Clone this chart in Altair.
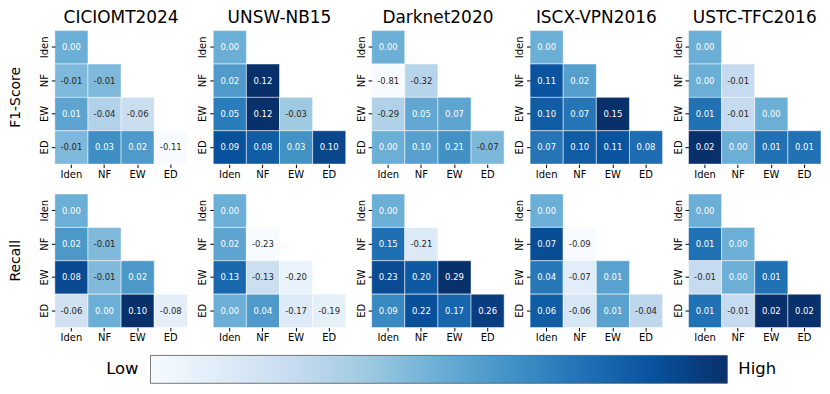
import altair as alt
import pandas as pd

datasets = ["CICIOMT2024", "UNSW-NB15", "Darknet2020", "ISCX-VPN2016", "USTC-TFC2016"]
metrics = ["F1-Score", "Recall"]
labels = ["Iden", "NF", "EW", "ED"]

# lower-triangular matrices (row i has i+1 values)
f1_ciciomt = [[0.00], [-0.01, -0.01], [0.01, -0.04, -0.06], [-0.01, 0.03, 0.02, -0.11]]
f1_unsw = [[0.00], [0.02, 0.12], [0.05, 0.12, -0.03], [0.09, 0.08, 0.03, 0.10]]
f1_darknet = [[0.00], [-0.81, -0.32], [-0.29, 0.05, 0.07], [0.00, 0.10, 0.21, -0.07]]
f1_iscx = [[0.00], [0.11, 0.02], [0.10, 0.07, 0.15], [0.07, 0.10, 0.11, 0.08]]
f1_ustc = [[0.00], [0.00, -0.01], [0.01, -0.01, 0.00], [0.02, 0.00, 0.01, 0.01]]

rec_ciciomt = [[0.00], [0.02, -0.01], [0.08, -0.01, 0.02], [-0.06, 0.00, 0.10, -0.08]]
rec_unsw = [[0.00], [0.02, -0.23], [0.13, -0.13, -0.20], [0.00, 0.04, -0.17, -0.19]]
rec_darknet = [[0.00], [0.15, -0.21], [0.23, 0.20, 0.29], [0.09, 0.22, 0.17, 0.26]]
rec_iscx = [[0.00], [0.07, -0.09], [0.04, -0.07, 0.01], [0.06, -0.06, 0.01, -0.04]]
rec_ustc = [[0.00], [0.01, 0.00], [-0.01, 0.00, 0.01], [0.01, -0.01, 0.02, 0.02]]

matrices = {
    "F1-Score": [f1_ciciomt, f1_unsw, f1_darknet, f1_iscx, f1_ustc],
    "Recall": [rec_ciciomt, rec_unsw, rec_darknet, rec_iscx, rec_ustc],
}

blues = ["#f7fbff", "#deebf7", "#c6dbef", "#9ecae1", "#6baed6",
         "#4292c6", "#2171b5", "#08519c", "#08306b"]
stops = [i / 8 for i in range(9)]

rows = []
for metric in metrics:
    for ds, mat in zip(datasets, matrices[metric]):
        for i, row in enumerate(mat):
            for j, v in enumerate(row):
                rows.append({"metric": metric, "dataset": ds, "row": labels[i],
                             "col": labels[j], "v": v, "label": f"{v:.2f}"})
df = pd.DataFrame(rows)

FONT = "DejaVu Sans"

base = alt.Chart().transform_calculate(
    absv="abs(datum.v)"
).transform_joinaggregate(
    m="max(absv)", groupby=["metric", "dataset"]
).transform_calculate(
    t="datum.m > 0 ? 0.5 + datum.v / (2 * datum.m) : 0.5"
)

x_enc = alt.X("col:N", sort=labels, scale=alt.Scale(domain=labels, paddingInner=0, paddingOuter=0),
              axis=alt.Axis(title=None, labelAngle=0, labelFontSize=10, tickSize=3.5,
                            domain=False, labelPadding=2, labelColor="black", tickColor="black"))
y_enc = alt.Y("row:N", sort=labels, scale=alt.Scale(domain=labels, paddingInner=0, paddingOuter=0),
              axis=alt.Axis(title=None, labelAngle=-90, labelAlign="center", labelBaseline="bottom",
                            labelFontSize=10, tickSize=3.5, domain=False, labelPadding=2,
                            labelColor="black", tickColor="black"))

rect = base.mark_rect(stroke="white", strokeWidth=0.5).encode(
    x=x_enc, y=y_enc,
    color=alt.Color("t:Q", scale=alt.Scale(domain=stops, range=blues, clamp=True), legend=None),
)
text = base.mark_text(fontSize=8.5, font=FONT).encode(
    x=x_enc, y=y_enc,
    text="label:N",
    color=alt.condition("datum.t >= 0.48", alt.value("white"), alt.value("#262626")),
)

heat = alt.layer(rect, text, data=df).properties(width=133, height=134).facet(
    row=alt.Row("metric:N", sort=metrics,
                header=alt.Header(title=None, labelAngle=-90, labelOrient="left",
                                  labelFontSize=14, labelFont=FONT, labelColor="black",
                                  labelPadding=9)),
    column=alt.Column("dataset:N", sort=datasets,
                      header=alt.Header(title=None, labelFontSize=17, labelFont=FONT,
                                        labelColor="black", labelPadding=3)),
    spacing={"row": 13, "column": 9},
).resolve_axis(x="independent", y="independent")

grad = alt.Gradient(
    gradient="linear",
    stops=[alt.GradientStop(color=c, offset=o) for c, o in zip(blues, stops)],
    x1=0, x2=1, y1=0, y2=0,
)
cb_df = pd.DataFrame({"k": [0]})
bar = alt.Chart(cb_df).mark_rect(fill=grad, stroke="#555555", strokeWidth=0.8).encode(
    x=alt.value(96), x2=alt.value(675), y=alt.value(0), y2=alt.value(28)
)
low = alt.Chart(cb_df).mark_text(align="right", baseline="middle", fontSize=16.5, font=FONT,
                                 color="black").encode(
    x=alt.value(84), y=alt.value(14), text=alt.value("Low"))
high = alt.Chart(cb_df).mark_text(align="left", baseline="middle", fontSize=16.5, font=FONT,
                                  color="black").encode(
    x=alt.value(686), y=alt.value(14), text=alt.value("High"))
colorbar = alt.layer(bar, low, high).properties(width=740, height=28)

chart = alt.vconcat(heat, colorbar, spacing=11).properties(
    padding=0
).configure(font=FONT).configure_view(stroke=None)

chart.save("out.html", embed_options={"renderer": "svg", "actions": False})
